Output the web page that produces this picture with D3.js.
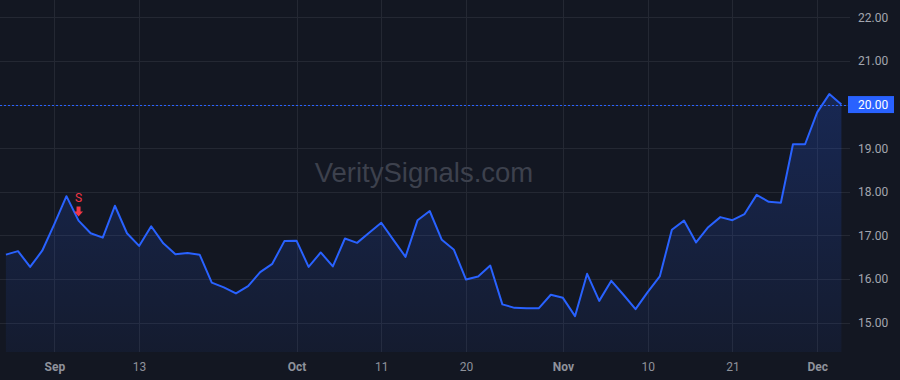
<!DOCTYPE html>
<html>
<head>
<meta charset="utf-8">
<script src="https://cdn.jsdelivr.net/npm/d3@7"></script>
<style>
  html, body { margin: 0; padding: 0; background: #131722; }
  #chart { width: 900px; height: 380px; }
</style>
</head>
<body>
<div id="chart"></div>
<script>
// Trading days shown on the chart (2023)
const dates = [
  '2023-08-28', '2023-08-29', '2023-08-30', '2023-08-31', '2023-09-01',
  '2023-09-05', '2023-09-06', '2023-09-07', '2023-09-08',
  '2023-09-11', '2023-09-12', '2023-09-13', '2023-09-14', '2023-09-15',
  '2023-09-18', '2023-09-19', '2023-09-20', '2023-09-21', '2023-09-22',
  '2023-09-25', '2023-09-26', '2023-09-27', '2023-09-28', '2023-09-29',
  '2023-10-02', '2023-10-03', '2023-10-04', '2023-10-05', '2023-10-06',
  '2023-10-09', '2023-10-10', '2023-10-11', '2023-10-12', '2023-10-13',
  '2023-10-16', '2023-10-17', '2023-10-18', '2023-10-19', '2023-10-20',
  '2023-10-23', '2023-10-24', '2023-10-25', '2023-10-26', '2023-10-27',
  '2023-10-30', '2023-10-31', '2023-11-01', '2023-11-02', '2023-11-03',
  '2023-11-06', '2023-11-07', '2023-11-08', '2023-11-09', '2023-11-10',
  '2023-11-13', '2023-11-14', '2023-11-15', '2023-11-16', '2023-11-17',
  '2023-11-20', '2023-11-21', '2023-11-22', '2023-11-24',
  '2023-11-27', '2023-11-28', '2023-11-29', '2023-11-30', '2023-12-01',
  '2023-12-04', '2023-12-05'
];

// Closing prices, one per date
const closes = [
  16.56, 16.64, 16.28, 16.65, 17.26,
  17.90, 17.34, 17.05, 16.95,
  17.68, 17.05, 16.76, 17.21, 16.82,
  16.57, 16.60, 16.56, 15.92, 15.81,
  15.67, 15.84, 16.16, 16.35, 16.87,
  16.88, 16.28, 16.61, 16.29, 16.93,
  16.83, 17.06, 17.29, 16.90, 16.51,
  17.35, 17.56, 16.90, 16.67, 15.99,
  16.06, 16.31, 15.42, 15.34, 15.33,
  15.33, 15.64, 15.57, 15.15, 16.12,
  15.50, 15.96, 15.64, 15.31, 15.70,
  16.06, 17.13, 17.34, 16.84, 17.19,
  17.42, 17.35, 17.49, 17.93,
  17.77, 17.75, 19.09, 19.09, 19.82,
  20.24, 20.00
];

// Time axis labels
const tickDates = ['2023-09-01', '2023-09-13', '2023-10-02', '2023-10-11', '2023-10-20',
                   '2023-11-01', '2023-11-10', '2023-11-21', '2023-12-01'];
const tickLabels = ['Sep', '13', 'Oct', '11', '20', 'Nov', '10', '21', 'Dec'];
const monthTicks = ['Sep', 'Oct', 'Nov', 'Dec'];

// Price axis
const priceTicks = [15, 16, 17, 18, 19, 20, 21, 22];
const lastPrice = 20.00;

// Sell signal
const signalDates = ['2023-09-06'];
const signalLabels = ['S'];

const width = 900;
const height = 380;
const paneRight = 848;
const paneBottom = 352;

const svg = d3.select('#chart')
  .append('svg')
  .attr('width', width)
  .attr('height', height)
  .style('font-family', 'Roboto, "Trebuchet MS", sans-serif');

svg.append('rect')
  .attr('width', width)
  .attr('height', height)
  .attr('fill', '#131722');

const data = dates.map((d, i) => ({ date: d, value: closes[i] }));

const x = d3.scalePoint()
  .domain(dates)
  .range([5.9, 841.4]);

const y = d3.scaleLinear()
  .domain([15, 22])
  .range([322.7, 17.3]);

// Grid lines
svg.append('g')
  .selectAll('line')
  .data(priceTicks)
  .join('line')
  .attr('x1', 0)
  .attr('x2', paneRight + 2)
  .attr('y1', d => Math.round(y(d)) + 0.5)
  .attr('y2', d => Math.round(y(d)) + 0.5)
  .attr('stroke', '#242833');

svg.append('g')
  .selectAll('line')
  .data(tickDates)
  .join('line')
  .attr('x1', d => Math.round(x(d)) + 0.5)
  .attr('x2', d => Math.round(x(d)) + 0.5)
  .attr('y1', 0)
  .attr('y2', paneBottom)
  .attr('stroke', '#242833');

// Watermark
svg.append('text')
  .attr('x', 424)
  .attr('y', 182)
  .attr('text-anchor', 'middle')
  .attr('fill', '#3d414d')
  .style('font-family', '"Liberation Sans", Arial, sans-serif')
  .style('font-size', '27.5px')
  .text('VeritySignals.com');

// Area fill
const defs = svg.append('defs');
const grad = defs.append('linearGradient')
  .attr('id', 'areaFill')
  .attr('gradientUnits', 'userSpaceOnUse')
  .attr('x1', 0).attr('y1', 0)
  .attr('x2', 0).attr('y2', paneBottom);
grad.append('stop').attr('offset', '0%').attr('stop-color', '#2962ff').attr('stop-opacity', 0.28);
grad.append('stop').attr('offset', '100%').attr('stop-color', '#2962ff').attr('stop-opacity', 0.06);

const area = d3.area()
  .x(d => x(d.date))
  .y0(paneBottom)
  .y1(d => y(d.value));

svg.append('path')
  .datum(data)
  .attr('d', area)
  .attr('fill', 'url(#areaFill)');

// Last price dotted line
svg.append('line')
  .attr('x1', 0)
  .attr('x2', paneRight)
  .attr('y1', Math.round(y(lastPrice)) + 0.5)
  .attr('y2', Math.round(y(lastPrice)) + 0.5)
  .attr('stroke', '#2962ff')
  .attr('stroke-width', 1)
  .attr('stroke-dasharray', '2,2');

// Price line
const line = d3.line()
  .x(d => x(d.date))
  .y(d => y(d.value));

svg.append('path')
  .datum(data)
  .attr('d', line)
  .attr('fill', 'none')
  .attr('stroke', '#2962ff')
  .attr('stroke-width', 2)
  .attr('stroke-linejoin', 'round');

// Signal markers
const signals = svg.append('g')
  .selectAll('g')
  .data(signalDates)
  .join('g')
  .attr('transform', d => `translate(${x(d)},${y(closes[dates.indexOf(d)])})`);

signals.append('text')
  .attr('y', -19)
  .attr('text-anchor', 'middle')
  .attr('fill', '#f23645')
  .style('font-size', '12px')
  .text((d, i) => signalLabels[i]);

signals.append('path')
  .attr('d', 'M-2,-14 L2,-14 L2,-9 L4.5,-9 L0,-4 L-4.5,-9 L-2,-9 Z')
  .attr('fill', '#f23645');

// Price axis
const yAxis = d3.axisRight(y)
  .tickValues(priceTicks)
  .tickFormat(d => d.toFixed(2))
  .tickSize(0)
  .tickPadding(10);

const yAxisG = svg.append('g')
  .attr('transform', `translate(${paneRight},0)`)
  .call(yAxis);
yAxisG.select('.domain').remove();
yAxisG.selectAll('text')
  .attr('fill', '#a3a6af')
  .style('font-size', '12px')
  .style('font-family', 'Roboto, "Trebuchet MS", sans-serif');

// Last price label
svg.append('rect')
  .attr('x', paneRight)
  .attr('y', y(lastPrice) - 8.5)
  .attr('width', 46)
  .attr('height', 17)
  .attr('fill', '#2962ff');

svg.append('text')
  .attr('x', paneRight + 10)
  .attr('y', y(lastPrice))
  .attr('dy', '0.35em')
  .attr('fill', '#ffffff')
  .style('font-size', '12px')
  .text(lastPrice.toFixed(2));

// Time axis
const xAxis = d3.axisBottom(x)
  .tickValues(tickDates)
  .tickFormat((d, i) => tickLabels[i])
  .tickSize(0)
  .tickPadding(10.5);

const xAxisG = svg.append('g')
  .attr('transform', `translate(0,${paneBottom})`)
  .call(xAxis);
xAxisG.select('.domain').remove();
xAxisG.selectAll('text')
  .attr('fill', '#8f929b')
  .style('font-size', '12px')
  .style('font-family', 'Roboto, "Trebuchet MS", sans-serif')
  .style('font-weight', (d, i) => monthTicks.includes(tickLabels[i]) ? 'bold' : 'normal');
</script>
</body>
</html>
